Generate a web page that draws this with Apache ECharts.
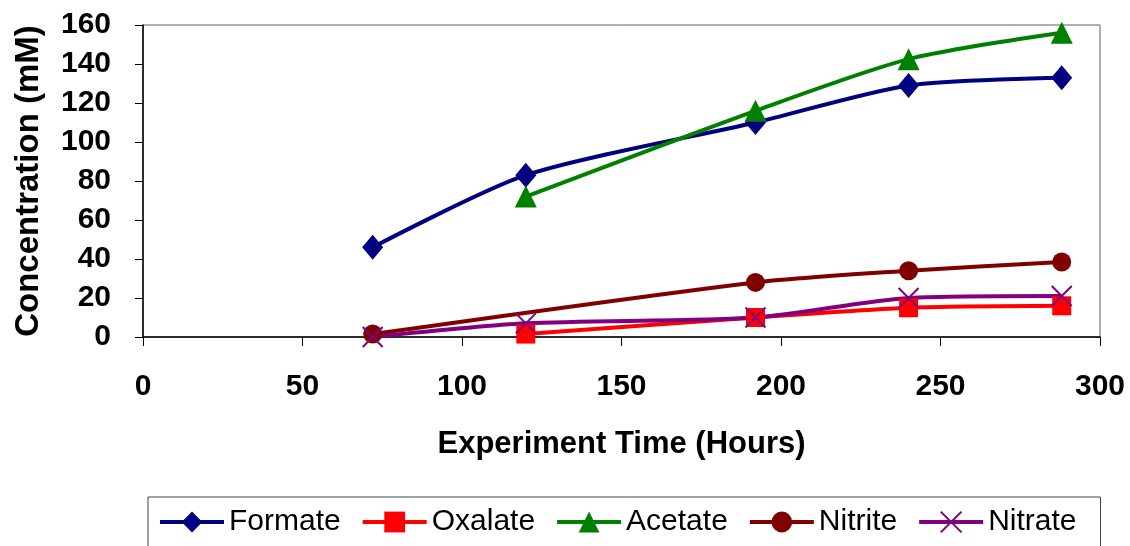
<!DOCTYPE html>
<html>
<head>
<meta charset="utf-8">
<style>
  html, body { margin: 0; padding: 0; background: #fff; }
  #chart { width: 1130px; height: 546px; }
</style>
<script src="https://cdn.jsdelivr.net/npm/echarts@6/dist/echarts.min.js"></script>
</head>
<body>
<div id="chart"></div>
<script>
// Sampling times (hours) and measured concentrations (mM)
const formateHours = [72, 120, 192, 240, 288];
const formate      = [46, 83, 110, 129, 133];

const oxalateHours = [120, 192, 240, 288];
const oxalate      = [1.5, 10, 15, 16];

const acetateHours = [120, 192, 240, 288];
const acetate      = [72, 116, 142.5, 156];

const nitriteHours = [72, 192, 240, 288];
const nitrite      = [1.5, 28, 34, 38.5];

const nitrateHours = [72, 120, 192, 240, 288];
const nitrate      = [0, 7, 10, 20, 21];

const seriesNames  = ['Formate', 'Oxalate', 'Acetate', 'Nitrite', 'Nitrate'];

const pairs = (xs, ys) => xs.map((x, i) => [x, ys[i]]);

const FONT = '"Liberation Sans", Arial, sans-serif';
const crossPath = 'path://M0,0L10,10M10,0L0,10';

function lineSeries(name, data, color, symbol, size, extra) {
  return Object.assign({
    name: name,
    type: 'line',
    data: data,
    smooth: 0.25,
    symbol: symbol,
    symbolSize: size,
    showAllSymbol: true,
    lineStyle: { color: color, width: 4 },
    itemStyle: { color: color },
    emphasis: { disabled: true },
    animation: false
  }, extra || {});
}

const chart = echarts.init(document.getElementById('chart'), null, { renderer: 'canvas' });

chart.setOption({
  animation: false,
  backgroundColor: '#ffffff',
  grid: {
    left: 143, right: 30, top: 25, bottom: 209,
    show: true, borderColor: '#606060', borderWidth: 1, backgroundColor: 'transparent'
  },
  xAxis: {
    type: 'value',
    min: 0, max: 300, interval: 50,
    name: 'Experiment Time (Hours)',
    nameLocation: 'middle',
    nameGap: 92,
    nameTextStyle: { fontFamily: FONT, fontWeight: 'bold', fontSize: 31, color: '#000' },
    axisLine: { show: true, onZero: false, lineStyle: { color: '#000', width: 1.5 } },
    axisTick: { show: true, inside: false, length: 9, lineStyle: { color: '#000', width: 1 } },
    axisLabel: { fontFamily: FONT, fontWeight: 'bold', fontSize: 30, color: '#000', margin: 35 },
    splitLine: { show: false }
  },
  yAxis: {
    type: 'value',
    min: 0, max: 160, interval: 20,
    name: 'Concentration (mM)',
    nameLocation: 'middle',
    nameGap: 98,
    nameTextStyle: { fontFamily: FONT, fontWeight: 'bold', fontSize: 33, color: '#000' },
    axisLine: { show: true, onZero: false, lineStyle: { color: '#000', width: 1.5 } },
    axisTick: { show: true, inside: false, length: 8, lineStyle: { color: '#000', width: 1 } },
    axisLabel: { fontFamily: FONT, fontWeight: 'bold', fontSize: 30, color: '#000', margin: 32 },
    splitLine: { show: false }
  },
  legend: {
    data: seriesNames,
    left: 148, top: 497,
    orient: 'horizontal',
    itemWidth: 64, itemHeight: 26, itemGap: 20,
    padding: [10, 24, 10, 10],
    borderColor: '#404040', borderWidth: 1,
    lineStyle: { width: 4 },
    textStyle: { fontFamily: FONT, fontSize: 30, color: '#000' },
    selectedMode: false
  },
  series: [
    lineSeries('Formate', pairs(formateHours, formate), '#000080', 'diamond', [21, 25]),
    lineSeries('Oxalate', pairs(oxalateHours, oxalate), '#ff0000', 'rect', [19, 19]),
    lineSeries('Acetate', pairs(acetateHours, acetate), '#008000', 'triangle', [22, 22]),
    lineSeries('Nitrite', pairs(nitriteHours, nitrite), '#800000', 'circle', 19),
    lineSeries('Nitrate', pairs(nitrateHours, nitrate), '#800080', crossPath, 20, {
      itemStyle: { color: '#800080', borderColor: '#800080', borderWidth: 2 }
    })
  ]
});
</script>
</body>
</html>
